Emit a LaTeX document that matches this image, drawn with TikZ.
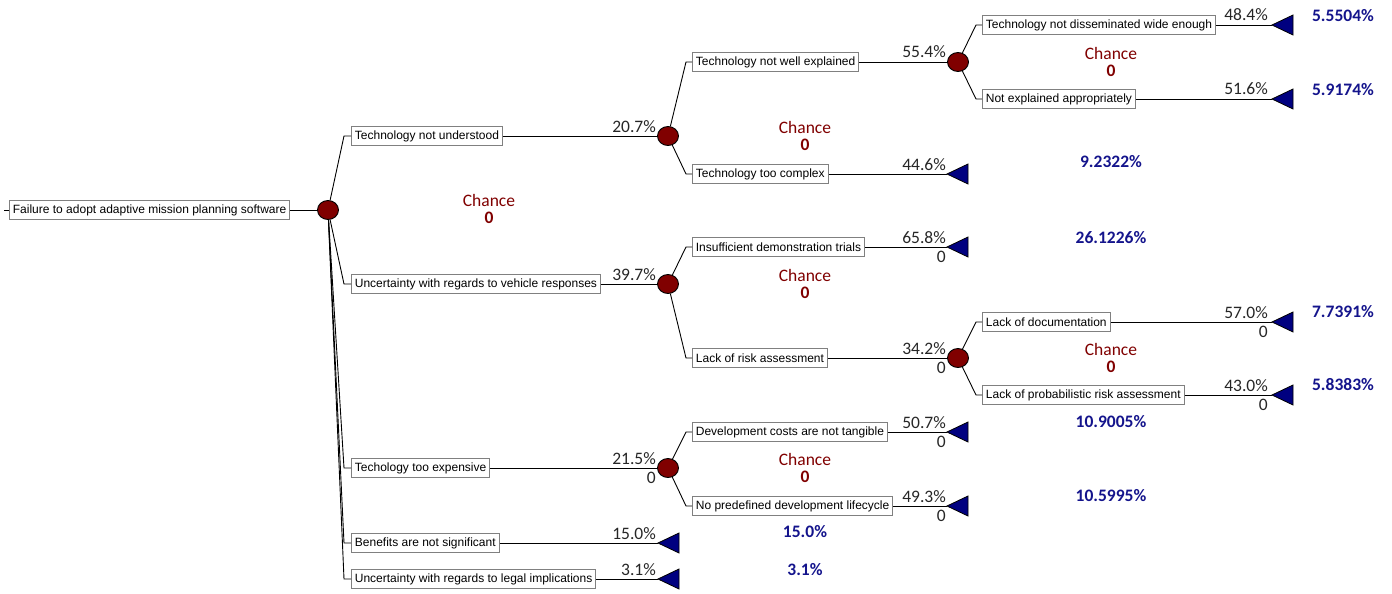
\documentclass[tikz,border=0pt]{standalone}
\usepackage{fontspec}
\setmainfont{Liberation Sans}
\newfontfamily\calfnt{Carlito}
\usetikzlibrary{shapes.geometric}
\definecolor{chred}{RGB}{128,0,0}
\definecolor{navyb}{RGB}{0,0,128}
\definecolor{valblue}{RGB}{20,20,140}
\newcommand\termtri[2]{\coordinate (#1) at #2; \draw[term] (#1) -- ++(21,-10) -- ++(0,20) -- cycle;}
\begin{document}
\begin{tikzpicture}[x=1pt,y=-1pt,
 box/.style={draw=black!50, line width=0.8pt, fill=white, anchor=west, inner xsep=3.5pt, inner ysep=0pt, minimum height=19pt, font=\fontsize{12}{14}\selectfont},
 chance/.style={ellipse, draw=black, line width=0.9pt, fill=chred, minimum width=21pt, minimum height=19pt, inner sep=0pt},
 term/.style={draw=black, line width=0.8pt, fill=navyb},
 pct/.style={anchor=base east, inner sep=0pt, font=\calfnt\fontsize{17.5}{20}\selectfont, text=black!85},
 chl/.style={font=\calfnt\fontsize{17.5}{20}\selectfont, text=chred, inner sep=0pt},
 chv/.style={font=\calfnt\bfseries\fontsize{17.5}{20}\selectfont, text=chred, inner sep=0pt},
 val/.style={font=\calfnt\bfseries\fontsize{17.5}{20}\selectfont, text=valblue, inner sep=0pt},
 conn/.style={line width=0.9pt}]
\useasboundingbox (0,0) rectangle (1392,594);
% root
\node[box] (root) at (9,210) {Failure to adopt adaptive mission planning software};
\coordinate (rtick) at (4,210);
\draw[conn] (rtick) -- (root.west);
\node[chance] (c0) at (328,210) {};
\draw[conn] (root.east) -- (c0);
\node[chl] (ch0) at (489,200) {Chance};
\node[chv] (cv0) at (489,218) {0};
% level 1
\node[box] (b11) at (351,136) {Technology not understood};
\node[box] (b12) at (351,284) {Uncertainty with regards to vehicle responses};
\node[box] (b13) at (351,468) {Techology too expensive};
\node[box] (b14) at (351,543) {Benefits are not significant};
\node[box] (b15) at (351,579) {Uncertainty with regards to legal implications};
\foreach \b in {b11,b12,b13,b14,b15}{\draw[conn] (c0) -- ([xshift=-7pt]\b.west) -- (\b.west);}
\node[chance] (c11) at (668,136) {};
\node[chance] (c12) at (668,284) {};
\node[chance] (c13) at (668,468) {};
\termtri{t14}{(658,543)}
\termtri{t15}{(658,579)}
\draw[conn] (b11.east) -- (c11);
\draw[conn] (b12.east) -- (c12);
\draw[conn] (b13.east) -- (c13);
\draw[conn] (b14.east) -- (t14);
\draw[conn] (b15.east) -- (t15);
\node[pct] (p11) at (656,132) {20.7\%};
\node[pct] (p12) at (656,280) {39.7\%};
\node[pct] (p13) at (656,464) {21.5\%};
\node[pct] (z13) at (656,483) {0};
\node[pct] (p14) at (656,539) {15.0\%};
\node[pct] (p15) at (656,575) {3.1\%};
\node[val] (v14) at (805,532) {15.0\%};
\node[val] (v15) at (805,570) {3.1\%};
% chance labels level 1
\node[chl] (ch11) at (805,127) {Chance};
\node[chv] (cv11) at (805,145) {0};
\node[chl] (ch12) at (805,275) {Chance};
\node[chv] (cv12) at (805,293) {0};
\node[chl] (ch13) at (805,459) {Chance};
\node[chv] (cv13) at (805,477) {0};
% level 2
\node[box] (b21) at (692,62) {Technology not well explained};
\node[box] (b22) at (692,174) {Technology too complex};
\node[box] (b23) at (692,247) {Insufficient demonstration trials};
\node[box] (b24) at (692,358) {Lack of risk assessment};
\node[box] (b25) at (692,432) {Development costs are not tangible};
\node[box] (b26) at (692,506) {No predefined development lifecycle};
\foreach \b in {b21,b22}{\draw[conn] (c11) -- ([xshift=-6pt]\b.west) -- (\b.west);}
\foreach \b in {b23,b24}{\draw[conn] (c12) -- ([xshift=-6pt]\b.west) -- (\b.west);}
\foreach \b in {b25,b26}{\draw[conn] (c13) -- ([xshift=-6pt]\b.west) -- (\b.west);}
\node[chance] (c21) at (958,62) {};
\termtri{t22}{(947,174)}
\termtri{t23}{(947,247)}
\node[chance] (c24) at (958,358) {};
\termtri{t25}{(947,432)}
\termtri{t26}{(947,506)}
\draw[conn] (b21.east) -- (c21);
\draw[conn] (b22.east) -- (t22);
\draw[conn] (b23.east) -- (t23);
\draw[conn] (b24.east) -- (c24);
\draw[conn] (b25.east) -- (t25);
\draw[conn] (b26.east) -- (t26);
\node[pct] (p21) at (946,58) {55.4\%};
\node[pct] (p22) at (946,170) {44.6\%};
\node[pct] (p23) at (946,243) {65.8\%};
\node[pct] (z23) at (946,262) {0};
\node[pct] (p24) at (946,354) {34.2\%};
\node[pct] (z24) at (946,373) {0};
\node[pct] (p25) at (946,428) {50.7\%};
\node[pct] (z25) at (946,447) {0};
\node[pct] (p26) at (946,502) {49.3\%};
\node[pct] (z26) at (946,521) {0};
\node[val] (v22) at (1111,162) {9.2322\%};
\node[val] (v23) at (1111,238) {26.1226\%};
\node[val] (v25) at (1111,422) {10.9005\%};
\node[val] (v26) at (1111,496) {10.5995\%};
\node[chl] (ch21) at (1111,53) {Chance};
\node[chv] (cv21) at (1111,71) {0};
\node[chl] (ch24) at (1111,349) {Chance};
\node[chv] (cv24) at (1111,367) {0};
% level 3
\node[box] (b31) at (982,25) {Technology not disseminated wide enough};
\node[box] (b32) at (982,99) {Not explained appropriately};
\node[box] (b33) at (982,322) {Lack of documentation};
\node[box] (b34) at (982,395) {Lack of probabilistic risk assessment};
\foreach \b in {b31,b32}{\draw[conn] (c21) -- ([xshift=-6pt]\b.west) -- (\b.west);}
\foreach \b in {b33,b34}{\draw[conn] (c24) -- ([xshift=-6pt]\b.west) -- (\b.west);}
\termtri{t31}{(1272,25)}
\termtri{t32}{(1272,99)}
\termtri{t33}{(1272,322)}
\termtri{t34}{(1272,395)}
\draw[conn] (b31.east) -- (t31);
\draw[conn] (b32.east) -- (t32);
\draw[conn] (b33.east) -- (t33);
\draw[conn] (b34.east) -- (t34);
\node[pct] (p31) at (1268,21) {48.4\%};
\node[pct] (p32) at (1268,95) {51.6\%};
\node[pct] (p33) at (1268,318) {57.0\%};
\node[pct] (z33) at (1268,337) {0};
\node[pct] (p34) at (1268,391) {43.0\%};
\node[pct] (z34) at (1268,410) {0};
\node[val] (v31) at (1343,16) {5.5504\%};
\node[val] (v32) at (1343,90) {5.9174\%};
\node[val] (v33) at (1343,312) {7.7391\%};
\node[val] (v34) at (1343,385) {5.8383\%};
\end{tikzpicture}
\end{document}
